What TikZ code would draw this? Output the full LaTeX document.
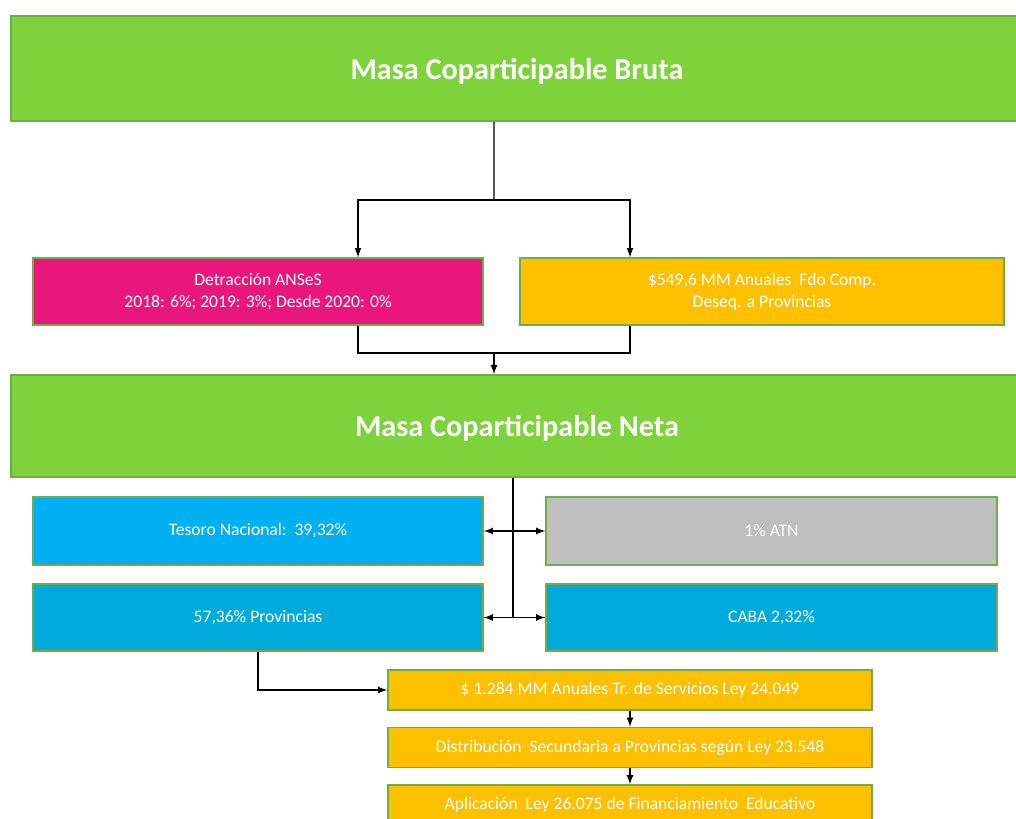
\documentclass[tikz,border=0pt]{standalone}
\usepackage{fontspec}
\setmainfont{Carlito}
\usepackage{tikz}
\usetikzlibrary{positioning,calc,arrows}

\definecolor{masagreen}{RGB}{126,210,59}
\definecolor{edgegreen}{RGB}{112,173,71}
\definecolor{ansesred}{RGB}{233,23,123}
\definecolor{fdoorange}{RGB}{255,192,0}
\definecolor{tesoroblue}{RGB}{0,176,240}
\definecolor{provblue}{RGB}{0,170,218}
\definecolor{atngray}{RGB}{191,191,191}

\begin{document}
\begin{tikzpicture}[>=latex,
	masa/.style={draw=edgegreen, line width=1pt, fill=masagreen, text=white, font=\fontsize{17.2}{20}\selectfont\bfseries, minimum width=20.24cm, inner sep=0pt, text depth=0pt},
	caja/.style={draw=edgegreen, line width=0.8pt, text=white, font=\fontsize{10}{12.5}\selectfont, align=center, inner sep=0pt},
	linea/.style={thick}]
				\useasboundingbox (0,0) rectangle (20.32,-16.38);
				\node[masa, minimum height=2.1cm] (bruta) at (10.34,-1.37) {Masa Coparticipable Bruta};
				\node[caja, fill=ansesred, minimum width=9cm, minimum height=1.34cm] (detr) at (5.16,-5.83) {Detracción ANSeS\\2018: 6\%; 2019: 3\%; Desde 2020: 0\%};
				\node[caja, fill=fdoorange, minimum width=9.68cm, minimum height=1.34cm] (fdo) at (15.24,-5.83) {\$549,6 MM Anuales\ \ Fdo Comp.\\Deseq. a Provincias};
				\node[masa, minimum height=2.04cm] (neta) at (10.34,-8.52) {Masa Coparticipable Neta};
				\node[caja, fill=tesoroblue, minimum width=9cm, minimum height=1.36cm] (tesoro) at (5.16,-10.62) {Tesoro Nacional:\ \ 39,32\%};
				\node[caja, fill=atngray, minimum width=9.02cm, minimum height=1.36cm] (atn) at (15.43,-10.62) {1\% ATN};
				\node[caja, fill=provblue, minimum width=9cm, minimum height=1.34cm] (prov) at (5.16,-12.35) {57,36\% Provincias};
				\node[caja, fill=provblue, minimum width=9.02cm, minimum height=1.34cm] (caba) at (15.43,-12.35) {CABA 2,32\%};
				\node[caja, fill=fdoorange, minimum width=9.68cm, minimum height=0.8cm] (tr) at (12.6,-13.8) {\$ 1.284 MM Anuales Tr. de Servicios Ley 24.049};
				\node[caja, fill=fdoorange, minimum width=9.68cm, minimum height=0.8cm] (dist) at (12.6,-14.95) {Distribución\ \ Secundaria a Provincias según Ley 23.548};
				\node[caja, fill=fdoorange, minimum width=9.68cm, minimum height=0.8cm] (apl) at (12.6,-16.1) {Aplicación\ \ Ley 26.075 de Financiamiento\ \ Educativo};
				% bruta -> detracciones
				\coordinate (split) at (9.88,-4.0);
				\draw[linea] ([xshift=-0.46cm]bruta.south) -- (split);
				\draw[linea,->] (split) -| ([xshift=2cm]detr.north);
				\draw[linea,->] (split) -| ([xshift=-2.64cm]fdo.north);
				% detracciones -> neta
				\coordinate (merge) at (9.88,-7.06);
				\draw[linea] ([xshift=2cm]detr.south) |- (merge) -| ([xshift=-2.64cm]fdo.south);
				\draw[linea,->] (merge) -- (merge |- neta.north);
				% neta -> reparto
				\draw[linea] ([xshift=-0.08cm]neta.south) -- ([xshift=-0.08cm]neta.south |- prov.east);
				\draw[linea,<->] (tesoro.east) -- (atn.west);
				\draw[linea,<->] (prov.east) -- (caba.west);
				% provincias
				\draw[linea,->] (prov.south) |- (tr.west);
				\draw[linea,->] (tr.south) -- (dist.north);
				\draw[linea,->] (dist.south) -- (apl.north);
\end{tikzpicture}
\end{document}
